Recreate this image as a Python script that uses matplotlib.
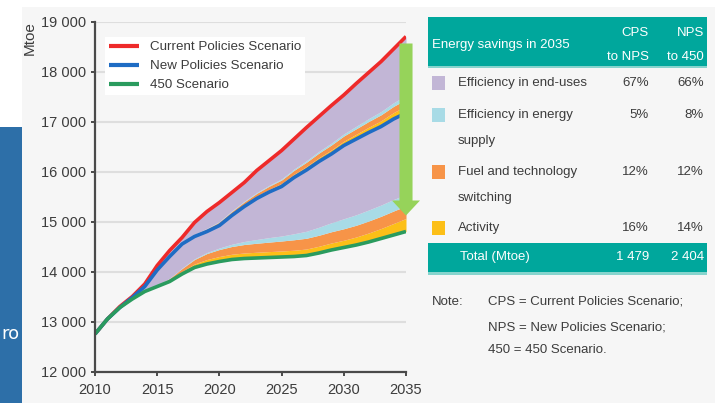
import matplotlib.pyplot as plt
from matplotlib.patches import Rectangle, FancyArrow
from matplotlib.ticker import FuncFormatter
import numpy as np

plt.rcParams['font.family'] = ['Liberation Sans', 'DejaVu Sans']

years = np.arange(2010, 2036)

cps = [12750, 13050, 13300, 13500, 13750, 14120, 14420, 14680, 14980, 15200,
       15380, 15580, 15780, 16020, 16220, 16420, 16650, 16880, 17100, 17320,
       17530, 17760, 17980, 18200, 18450, 18700]
nps = [12750, 13050, 13280, 13480, 13700, 14030, 14300, 14550, 14700, 14800,
       14920, 15120, 15300, 15460, 15590, 15700, 15880, 16030, 16200, 16350,
       16520, 16650, 16780, 16900, 17050, 17170]
s450 = [12750, 13050, 13280, 13450, 13600, 13700, 13800, 13950, 14080, 14150,
        14200, 14240, 14260, 14270, 14280, 14290, 14300, 14320, 14370, 14430,
        14480, 14530, 14590, 14660, 14730, 14800]

# savings bands stacked on top of NPS (CPS -> NPS)
up_activity = [0, 0, 0, 0, 0, 5, 10, 15, 20, 25, 30, 35, 40, 45, 52, 60,
               65, 70, 75, 80, 85, 95, 105, 115, 128, 140]
up_fuel = [0, 0, 0, 0, 0, 5, 10, 15, 20, 30, 40, 46, 52, 58, 64, 70,
           78, 86, 94, 100, 105, 110, 115, 120, 125, 130]
up_supply = [0, 0, 0, 0, 0, 0, 2, 4, 6, 8, 10, 12, 14, 16, 18, 22,
             26, 30, 34, 38, 42, 50, 58, 65, 72, 80]

# savings bands stacked on top of 450 (NPS -> 450)
lo_activity = [0, 0, 0, 0, 0, 10, 30, 50, 70, 90, 100, 105, 110, 115, 118, 120,
               125, 130, 135, 140, 145, 160, 180, 200, 230, 260]
lo_fuel = [0, 0, 0, 0, 0, 10, 30, 60, 90, 120, 140, 155, 170, 180, 190, 200,
           210, 215, 220, 225, 230, 235, 240, 245, 250, 250]
lo_supply = [0, 0, 0, 0, 0, 0, 5, 10, 15, 20, 30, 45, 60, 75, 90, 100,
             120, 140, 160, 180, 200, 210, 220, 225, 230, 230]

rows = ["Efficiency in end-uses", "Efficiency in energy\nsupply",
        "Fuel and technology\nswitching", "Activity"]
cps_to_nps = ["67%", "5%", "12%", "16%"]
nps_to_450 = ["66%", "8%", "12%", "14%"]
totals = ["1 479", "2 404"]

c_purple = "#c2b6d6"
c_cyan = "#a8dbe6"
c_orange = "#f79448"
c_yellow = "#fcbf17"
c_red = "#ee2a2a"
c_blue = "#1e6cc4"
c_green = "#2a9b5e"
teal = "#00a79c"
txt = "#3c3c3c"

W, H = 715, 403
fig = plt.figure(figsize=(W / 100, H / 100), dpi=100)
fig.patch.set_facecolor("white")


def fx(x):
    return x / W


def fy(y):
    return 1 - y / H


# slide background peeking out at bottom-left
fig.patches.append(Rectangle((0, 0), fx(22), 1 - fy(276), transform=fig.transFigure,
                             facecolor="#2d6fa8", edgecolor="none", zorder=-3))
fig.text(fx(1), fy(334), "ro", color="white", fontsize=13, family="DejaVu Sans",
         va="center", ha="left", zorder=-2)
fig.patches.append(Rectangle((fx(22), 0), 1 - fx(22), fy(7), transform=fig.transFigure,
                             facecolor="#f6f6f6", edgecolor="none", zorder=-1))

ax = fig.add_axes([fx(95), fy(371.5), fx(406) - fx(95), fy(21.5) - fy(371.5)])
ax.set_facecolor("#f6f6f6")

cps = np.array(cps)
nps = np.array(nps)
s450 = np.array(s450)

# upper wedge: NPS -> CPS
b1 = nps + np.array(up_activity)
b2 = b1 + np.array(up_fuel)
b3 = b2 + np.array(up_supply)
ax.fill_between(years, nps, b1, color=c_yellow, lw=0)
ax.fill_between(years, b1, b2, color=c_orange, lw=0)
ax.fill_between(years, b2, b3, color=c_cyan, lw=0)
ax.fill_between(years, b3, cps, color=c_purple, lw=0)

# lower wedge: 450 -> NPS
l1 = s450 + np.array(lo_activity)
l2 = l1 + np.array(lo_fuel)
l3 = l2 + np.array(lo_supply)
ax.fill_between(years, s450, l1, color=c_yellow, lw=0)
ax.fill_between(years, l1, l2, color=c_orange, lw=0)
ax.fill_between(years, l2, l3, color=c_cyan, lw=0)
ax.fill_between(years, l3, nps, color=c_purple, lw=0)

ax.plot(years, cps, color=c_red, lw=2.6, label="Current Policies Scenario", solid_capstyle="butt")
ax.plot(years, nps, color=c_blue, lw=2.6, label="New Policies Scenario", solid_capstyle="butt")
ax.plot(years, s450, color=c_green, lw=2.6, label="450 Scenario", solid_capstyle="butt")

# savings arrow at 2035
ax.add_patch(FancyArrow(2035, 18560, 0, -3440, width=1.05, head_width=2.25,
                        head_length=300, length_includes_head=True,
                        color="#96d35a", lw=0, clip_on=False, zorder=5))

ax.set_xlim(2010, 2035)
ax.set_ylim(12000, 19000)
ax.set_xticks(np.arange(2010, 2036, 5))
ax.set_yticks(np.arange(12000, 19001, 1000))
ax.yaxis.set_major_formatter(FuncFormatter(lambda v, p: f"{int(v):,}".replace(",", " ")))
ax.grid(axis="y", color="#dedede", lw=1.5)
ax.set_axisbelow(True)
for s in ["top", "right"]:
    ax.spines[s].set_visible(False)
for s in ["left", "bottom"]:
    ax.spines[s].set_color("#4a4a4a")
    ax.spines[s].set_linewidth(1.6)
ax.tick_params(colors="#4a4a4a", labelcolor=txt, labelsize=10.5, length=3, width=1.4)
ax.tick_params(axis="x", pad=5)
ax.text(-0.21, 1.0, "Mtoe", transform=ax.transAxes, rotation=90, ha="center",
        va="top", fontsize=11, color=txt)

leg = ax.legend(loc="upper left", bbox_to_anchor=(0.01, 0.975), fontsize=9.6,
                frameon=True, facecolor="white", edgecolor="none", framealpha=1,
                handlelength=2.3, handletextpad=0.8, labelspacing=0.5,
                borderpad=0.3, fancybox=False)
for t in leg.get_texts():
    t.set_color(txt)
for h in leg.get_lines():
    h.set_linewidth(3)

# savings table
fig.patches.append(Rectangle((fx(428), fy(66)), fx(707) - fx(428), fy(17) - fy(66),
                             transform=fig.transFigure, facecolor=teal, edgecolor="none"))
fig.patches.append(Rectangle((fx(428), fy(68)), fx(707) - fx(428), fy(66) - fy(68),
                             transform=fig.transFigure, facecolor="#86d4cd", edgecolor="none"))
fig.text(fx(432), fy(45), "Energy savings in 2035", color="white", fontsize=9.5,
         va="center", ha="left")
fig.text(fx(649), fy(33), "CPS", color="white", fontsize=9.5, va="center", ha="right")
fig.text(fx(649), fy(57), "to NPS", color="white", fontsize=9.5, va="center", ha="right")
fig.text(fx(704), fy(33), "NPS", color="white", fontsize=9.5, va="center", ha="right")
fig.text(fx(704), fy(57), "to 450", color="white", fontsize=9.5, va="center", ha="right")

row_y = [83, 115, 172, 228]
sq_cols = [c_purple, c_cyan, c_orange, c_yellow]
for lab, a, b, yy, col in zip(rows, cps_to_nps, nps_to_450, row_y, sq_cols):
    fig.patches.append(Rectangle((fx(432), fy(yy + 7)), fx(445) - fx(432), fy(yy - 7) - fy(yy + 7),
                                 transform=fig.transFigure, facecolor=col, edgecolor="none"))
    fig.text(fx(458), fy(yy), lab.split("\n")[0], color=txt, fontsize=9.5, va="center", ha="left")
    if "\n" in lab:
        fig.text(fx(458), fy(yy + 26), lab.split("\n")[1], color=txt, fontsize=9.5,
                 va="center", ha="left")
    fig.text(fx(649), fy(yy), a, color=txt, fontsize=9.5, va="center", ha="right")
    fig.text(fx(704), fy(yy), b, color=txt, fontsize=9.5, va="center", ha="right")

fig.patches.append(Rectangle((fx(428), fy(272)), fx(707) - fx(428), fy(243) - fy(272),
                             transform=fig.transFigure, facecolor=teal, edgecolor="none"))
fig.patches.append(Rectangle((fx(428), fy(275)), fx(707) - fx(428), fy(272) - fy(275),
                             transform=fig.transFigure, facecolor="#86d4cd", edgecolor="none"))
fig.text(fx(460), fy(257), "Total (Mtoe)", color="white", fontsize=9.5, va="center", ha="left")
fig.text(fx(649), fy(257), totals[0], color="white", fontsize=9.5, va="center", ha="right")
fig.text(fx(704), fy(257), totals[1], color="white", fontsize=9.5, va="center", ha="right")

fig.text(fx(432), fy(302), "Note:", color=txt, fontsize=9.5, va="center", ha="left")
fig.text(fx(488), fy(302), "CPS = Current Policies Scenario;", color=txt, fontsize=9.5,
         va="center", ha="left")
fig.text(fx(488), fy(327), "NPS = New Policies Scenario;", color=txt, fontsize=9.5,
         va="center", ha="left")
fig.text(fx(488), fy(350), "450 = 450 Scenario.", color=txt, fontsize=9.5,
         va="center", ha="left")

fig.savefig("out.png", dpi=100)
